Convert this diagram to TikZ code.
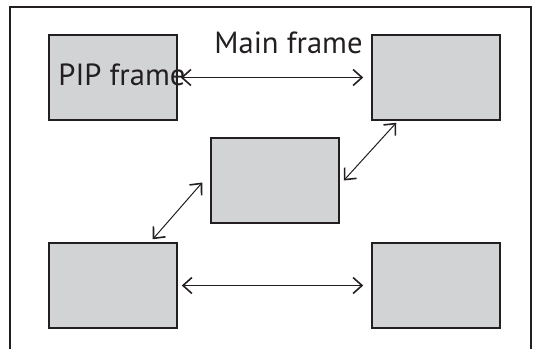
\documentclass[tikz,border=0pt]{standalone}
\usepackage{fontspec}
\setmainfont{PT Sans}
\usetikzlibrary{arrows.meta, positioning}
\definecolor{boxgray}{RGB}{210,211,213}
\definecolor{inkdark}{RGB}{35,31,32}
\tikzset{
  framebox/.style={draw=inkdark, line width=0.75pt, fill=boxgray,
    minimum width=64pt, minimum height=42.5pt, inner sep=0pt},
  link/.style={draw=inkdark, line width=0.5pt,
    {Straight Barb[length=4.5pt,width=8pt,line width=0.8pt]}-{Straight Barb[length=4.5pt,width=8pt,line width=0.8pt]}},
  lbl/.style={anchor=base west, inner sep=0pt, font=\fontsize{15.3}{17}\selectfont, text=inkdark}
}
\begin{document}
\begin{tikzpicture}[x=0.5pt, y=-0.5pt]
\useasboundingbox (0,0) rectangle (539,349);
% outer screen (open at the bottom)
\draw[inkdark, line width=0.6pt] (10,349) -- (10,7) -- (531,7) -- (531,349);

% the five frames
\node[framebox] (pip) at (113,77.5) {};
\node[framebox] (mainfr) at (436,77.5) {};
\node[framebox] (mid) at (275,180.5) {};
\node[framebox] (lowleft) at (113,285.5) {};
\node[framebox] (lowright) at (436,285.5) {};

% moves between positions
\draw[link] ([xshift=1.5pt]pip.east) -- ([xshift=-4pt]mainfr.west);
\draw[link] ([xshift=12.5pt,yshift=-1pt]mainfr.south west) -- ([xshift=2pt]mid.east);
\draw[link] ([xshift=-4pt,yshift=-1pt]mid.west) -- ([xshift=-12.5pt,yshift=1.5pt]lowleft.north east);
\draw[link] ([xshift=2pt]lowleft.east) -- ([xshift=-4pt]lowright.west);

% labels
\node[lbl] (mainlbl) at (214,53) {Main frame};
\node[lbl] (piplbl) at (58,85) {PIP frame};
\end{tikzpicture}
\end{document}
